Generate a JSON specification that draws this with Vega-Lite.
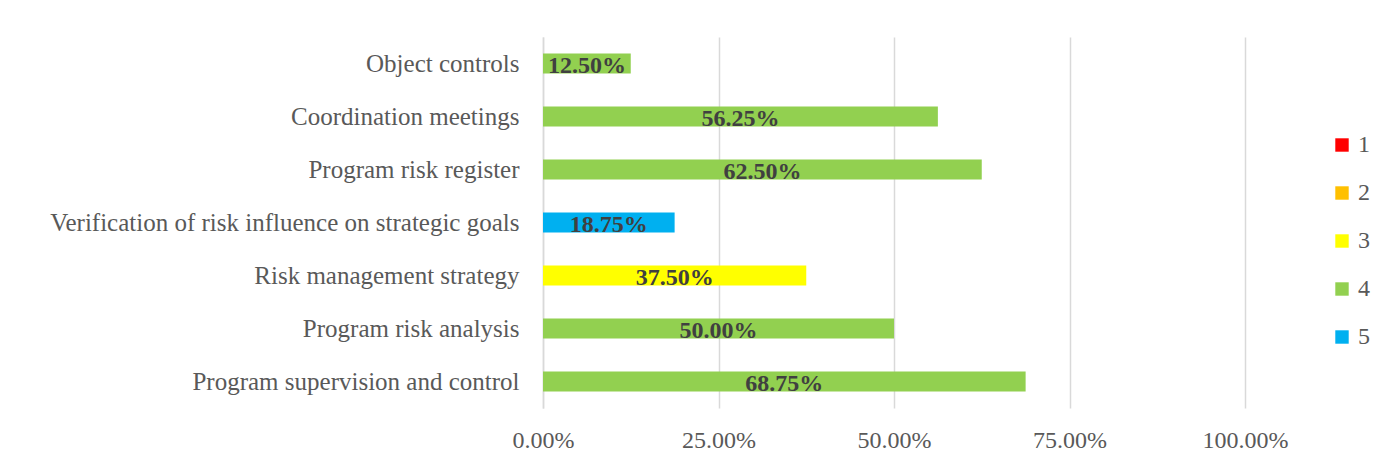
{
  "$schema": "https://vega.github.io/schema/vega-lite/v6.json",
  "width": 702,
  "height": 371,
  "autosize": {"type": "none"},
  "padding": {"left": 543, "top": 37, "right": 150, "bottom": 62},
  "background": "white",
  "config": {
    "view": {"stroke": null},
    "font": "Liberation Serif",
    "axis": {"labelFont": "Liberation Serif", "labelColor": "#595959"},
    "legend": {"labelFont": "Liberation Serif"}
  },
  "data": {
    "values": [
      {"item": "Object controls", "value": 0.125, "score": 4},
      {"item": "Coordination meetings", "value": 0.5625, "score": 4},
      {"item": "Program risk register", "value": 0.625, "score": 4},
      {"item": "Verification of risk influence on strategic goals", "value": 0.1875, "score": 5},
      {"item": "Risk management strategy", "value": 0.375, "score": 3},
      {"item": "Program risk analysis", "value": 0.5, "score": 4},
      {"item": "Program supervision and control", "value": 0.6875, "score": 4}
    ]
  },
  "encoding": {
    "y": {
      "field": "item", "type": "nominal", "sort": null, "title": null,
      "scale": {"paddingInner": 0.62, "paddingOuter": 0.31},
      "axis": {"ticks": false, "domain": true, "domainColor": "#d9d9d9", "domainWidth": 1.5, "labelPadding": 24, "labelLimit": 600, "labelFontSize": 25}
    }
  },
  "layer": [
    {
      "mark": {"type": "bar"},
      "encoding": {
        "x": {
          "field": "value", "type": "quantitative", "title": null,
          "scale": {"domain": [0, 1]},
          "axis": {"values": [0, 0.25, 0.5, 0.75, 1], "format": ".2%", "grid": true, "gridColor": "#d9d9d9", "gridWidth": 1.5, "domain": false, "ticks": false, "labelPadding": 20, "labelFontSize": 24, "labelFlush": false}
        },
        "color": {
          "field": "score", "type": "ordinal", "title": null,
          "scale": {"domain": [1, 2, 3, 4, 5], "range": ["#FF0000", "#FFC000", "#FFFF00", "#92D050", "#00B0F0"]},
          "legend": {
            "orient": "none", "legendX": 787, "legendY": 96,
            "symbolType": "square", "symbolSize": 180, "symbolStrokeWidth": 0,
            "labelFontSize": 24, "labelColor": "#595959", "rowPadding": 24, "labelOffset": 4
          }
        }
      }
    },
    {
      "mark": {"type": "text", "fontWeight": "bold", "fontSize": 24, "color": "#404040", "baseline": "middle", "dy": 2},
      "encoding": {
        "x": {"field": "value", "type": "quantitative", "scale": {"domain": [0, 2]}, "axis": null},
        "text": {"field": "value", "type": "quantitative", "format": ".2%"}
      }
    }
  ],
  "resolve": {"scale": {"x": "independent"}, "axis": {"x": "independent"}}
}
